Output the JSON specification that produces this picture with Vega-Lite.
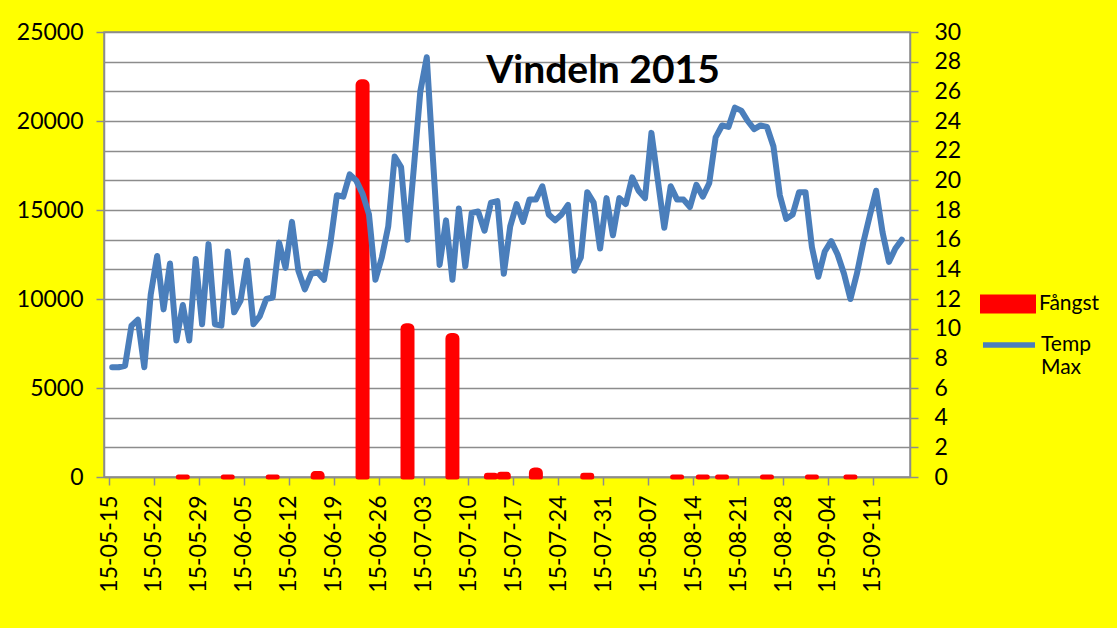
{
  "$schema": "https://vega.github.io/schema/vega-lite/v6.json",
  "width": 806,
  "height": 445,
  "autosize": {"type": "none"},
  "padding": {"left": 104, "top": 32, "right": 207, "bottom": 151},
  "background": "#ffff00",
  "title": {
    "text": "Vindeln 2015",
    "font": "Lato",
    "fontSize": 39,
    "fontWeight": "bold",
    "color": "#000000",
    "anchor": "middle",
    "frame": "group",
    "offset": 0,
    "dx": 96,
    "dy": 101,
    "baseline": "alphabetic"
  },
  "config": {
    "font": "Lato",
    "view": {"fill": "#ffffff", "stroke": "#8c8c8c", "strokeWidth": 1.5},
    "axis": {
      "labelFont": "Lato",
      "labelFontSize": 23,
      "labelColor": "#000000",
      "domainColor": "#8c8c8c",
      "domainWidth": 1.5,
      "tickColor": "#8c8c8c",
      "tickWidth": 1.5,
      "tickSize": 8,
      "labelFlush": false,
      "labelOverlap": false,
      "labelBound": false
    },
    "legend": {
      "orient": "none",
      "title": null,
      "padding": 0,
      "labelFont": "Lato",
      "labelFontSize": 21,
      "labelColor": "#000000",
      "labelOffset": 3
    }
  },
  "datasets": {
    "temp": [
      {"date": "2015-05-15T12:00:00Z", "temp": 7.4},
      {"date": "2015-05-16T12:00:00Z", "temp": 7.4},
      {"date": "2015-05-17T12:00:00Z", "temp": 7.5},
      {"date": "2015-05-18T12:00:00Z", "temp": 10.2},
      {"date": "2015-05-19T12:00:00Z", "temp": 10.6},
      {"date": "2015-05-20T12:00:00Z", "temp": 7.4},
      {"date": "2015-05-21T12:00:00Z", "temp": 12.3},
      {"date": "2015-05-22T12:00:00Z", "temp": 14.9},
      {"date": "2015-05-23T12:00:00Z", "temp": 11.3},
      {"date": "2015-05-24T12:00:00Z", "temp": 14.4},
      {"date": "2015-05-25T12:00:00Z", "temp": 9.2},
      {"date": "2015-05-26T12:00:00Z", "temp": 11.6},
      {"date": "2015-05-27T12:00:00Z", "temp": 9.2},
      {"date": "2015-05-28T12:00:00Z", "temp": 14.7},
      {"date": "2015-05-29T12:00:00Z", "temp": 10.3},
      {"date": "2015-05-30T12:00:00Z", "temp": 15.7},
      {"date": "2015-05-31T12:00:00Z", "temp": 10.3},
      {"date": "2015-06-01T12:00:00Z", "temp": 10.2},
      {"date": "2015-06-02T12:00:00Z", "temp": 15.2},
      {"date": "2015-06-03T12:00:00Z", "temp": 11.1},
      {"date": "2015-06-04T12:00:00Z", "temp": 11.9},
      {"date": "2015-06-05T12:00:00Z", "temp": 14.6},
      {"date": "2015-06-06T12:00:00Z", "temp": 10.3},
      {"date": "2015-06-07T12:00:00Z", "temp": 10.85},
      {"date": "2015-06-08T12:00:00Z", "temp": 12.0},
      {"date": "2015-06-09T12:00:00Z", "temp": 12.1},
      {"date": "2015-06-10T12:00:00Z", "temp": 15.8},
      {"date": "2015-06-11T12:00:00Z", "temp": 14.1},
      {"date": "2015-06-12T12:00:00Z", "temp": 17.2},
      {"date": "2015-06-13T12:00:00Z", "temp": 13.9},
      {"date": "2015-06-14T12:00:00Z", "temp": 12.65},
      {"date": "2015-06-15T12:00:00Z", "temp": 13.7},
      {"date": "2015-06-16T12:00:00Z", "temp": 13.8},
      {"date": "2015-06-17T12:00:00Z", "temp": 13.3},
      {"date": "2015-06-18T12:00:00Z", "temp": 15.8},
      {"date": "2015-06-19T12:00:00Z", "temp": 19.0},
      {"date": "2015-06-20T12:00:00Z", "temp": 18.9},
      {"date": "2015-06-21T12:00:00Z", "temp": 20.4},
      {"date": "2015-06-22T12:00:00Z", "temp": 20.0},
      {"date": "2015-06-23T12:00:00Z", "temp": 19.1},
      {"date": "2015-06-24T12:00:00Z", "temp": 17.7},
      {"date": "2015-06-25T12:00:00Z", "temp": 13.3},
      {"date": "2015-06-26T12:00:00Z", "temp": 14.8},
      {"date": "2015-06-27T12:00:00Z", "temp": 16.9},
      {"date": "2015-06-28T12:00:00Z", "temp": 21.6},
      {"date": "2015-06-29T12:00:00Z", "temp": 20.9},
      {"date": "2015-06-30T12:00:00Z", "temp": 16.0},
      {"date": "2015-07-01T12:00:00Z", "temp": 20.9},
      {"date": "2015-07-02T12:00:00Z", "temp": 26.0},
      {"date": "2015-07-03T12:00:00Z", "temp": 28.3},
      {"date": "2015-07-04T12:00:00Z", "temp": 21.2},
      {"date": "2015-07-05T12:00:00Z", "temp": 14.3},
      {"date": "2015-07-06T12:00:00Z", "temp": 17.3},
      {"date": "2015-07-07T12:00:00Z", "temp": 13.3},
      {"date": "2015-07-08T12:00:00Z", "temp": 18.1},
      {"date": "2015-07-09T12:00:00Z", "temp": 14.2},
      {"date": "2015-07-10T12:00:00Z", "temp": 17.8},
      {"date": "2015-07-11T12:00:00Z", "temp": 17.9},
      {"date": "2015-07-12T12:00:00Z", "temp": 16.6},
      {"date": "2015-07-13T12:00:00Z", "temp": 18.5},
      {"date": "2015-07-14T12:00:00Z", "temp": 18.6},
      {"date": "2015-07-15T12:00:00Z", "temp": 13.7},
      {"date": "2015-07-16T12:00:00Z", "temp": 16.9},
      {"date": "2015-07-17T12:00:00Z", "temp": 18.4},
      {"date": "2015-07-18T12:00:00Z", "temp": 17.2},
      {"date": "2015-07-19T12:00:00Z", "temp": 18.7},
      {"date": "2015-07-20T12:00:00Z", "temp": 18.7},
      {"date": "2015-07-21T12:00:00Z", "temp": 19.6},
      {"date": "2015-07-22T12:00:00Z", "temp": 17.7},
      {"date": "2015-07-23T12:00:00Z", "temp": 17.3},
      {"date": "2015-07-24T12:00:00Z", "temp": 17.7},
      {"date": "2015-07-25T12:00:00Z", "temp": 18.35},
      {"date": "2015-07-26T12:00:00Z", "temp": 13.9},
      {"date": "2015-07-27T12:00:00Z", "temp": 14.8},
      {"date": "2015-07-28T12:00:00Z", "temp": 19.2},
      {"date": "2015-07-29T12:00:00Z", "temp": 18.5},
      {"date": "2015-07-30T12:00:00Z", "temp": 15.4},
      {"date": "2015-07-31T12:00:00Z", "temp": 18.8},
      {"date": "2015-08-01T12:00:00Z", "temp": 16.3},
      {"date": "2015-08-02T12:00:00Z", "temp": 18.8},
      {"date": "2015-08-03T12:00:00Z", "temp": 18.4},
      {"date": "2015-08-04T12:00:00Z", "temp": 20.2},
      {"date": "2015-08-05T12:00:00Z", "temp": 19.3},
      {"date": "2015-08-06T12:00:00Z", "temp": 18.8},
      {"date": "2015-08-07T12:00:00Z", "temp": 23.2},
      {"date": "2015-08-08T12:00:00Z", "temp": 20.0},
      {"date": "2015-08-09T12:00:00Z", "temp": 16.8},
      {"date": "2015-08-10T12:00:00Z", "temp": 19.6},
      {"date": "2015-08-11T12:00:00Z", "temp": 18.7},
      {"date": "2015-08-12T12:00:00Z", "temp": 18.7},
      {"date": "2015-08-13T12:00:00Z", "temp": 18.2},
      {"date": "2015-08-14T12:00:00Z", "temp": 19.7},
      {"date": "2015-08-15T12:00:00Z", "temp": 18.9},
      {"date": "2015-08-16T12:00:00Z", "temp": 19.8},
      {"date": "2015-08-17T12:00:00Z", "temp": 22.9},
      {"date": "2015-08-18T12:00:00Z", "temp": 23.7},
      {"date": "2015-08-19T12:00:00Z", "temp": 23.6},
      {"date": "2015-08-20T12:00:00Z", "temp": 24.9},
      {"date": "2015-08-21T12:00:00Z", "temp": 24.7},
      {"date": "2015-08-22T12:00:00Z", "temp": 24.0},
      {"date": "2015-08-23T12:00:00Z", "temp": 23.45},
      {"date": "2015-08-24T12:00:00Z", "temp": 23.7},
      {"date": "2015-08-25T12:00:00Z", "temp": 23.6},
      {"date": "2015-08-26T12:00:00Z", "temp": 22.3},
      {"date": "2015-08-27T12:00:00Z", "temp": 19.0},
      {"date": "2015-08-28T12:00:00Z", "temp": 17.4},
      {"date": "2015-08-29T12:00:00Z", "temp": 17.7},
      {"date": "2015-08-30T12:00:00Z", "temp": 19.2},
      {"date": "2015-08-31T12:00:00Z", "temp": 19.2},
      {"date": "2015-09-01T12:00:00Z", "temp": 15.5},
      {"date": "2015-09-02T12:00:00Z", "temp": 13.5},
      {"date": "2015-09-03T12:00:00Z", "temp": 15.2},
      {"date": "2015-09-04T12:00:00Z", "temp": 15.9},
      {"date": "2015-09-05T12:00:00Z", "temp": 15.0},
      {"date": "2015-09-06T12:00:00Z", "temp": 13.7},
      {"date": "2015-09-07T12:00:00Z", "temp": 12.0},
      {"date": "2015-09-08T12:00:00Z", "temp": 13.7},
      {"date": "2015-09-09T12:00:00Z", "temp": 15.8},
      {"date": "2015-09-10T12:00:00Z", "temp": 17.6},
      {"date": "2015-09-11T12:00:00Z", "temp": 19.3},
      {"date": "2015-09-12T12:00:00Z", "temp": 16.5},
      {"date": "2015-09-13T12:00:00Z", "temp": 14.5},
      {"date": "2015-09-14T12:00:00Z", "temp": 15.4},
      {"date": "2015-09-15T12:00:00Z", "temp": 16.0}
    ],
    "catch": [
      {"date": "2015-05-26T12:00:00Z", "fangst": 0},
      {"date": "2015-06-02T12:00:00Z", "fangst": 0},
      {"date": "2015-06-09T12:00:00Z", "fangst": 0},
      {"date": "2015-06-16T12:00:00Z", "fangst": 200},
      {"date": "2015-06-23T12:00:00Z", "fangst": 22200},
      {"date": "2015-06-30T12:00:00Z", "fangst": 8500},
      {"date": "2015-07-07T12:00:00Z", "fangst": 7950},
      {"date": "2015-07-13T12:00:00Z", "fangst": 100},
      {"date": "2015-07-15T12:00:00Z", "fangst": 150},
      {"date": "2015-07-20T12:00:00Z", "fangst": 400},
      {"date": "2015-07-28T12:00:00Z", "fangst": 100},
      {"date": "2015-08-11T12:00:00Z", "fangst": 0},
      {"date": "2015-08-15T12:00:00Z", "fangst": 0},
      {"date": "2015-08-18T12:00:00Z", "fangst": 0},
      {"date": "2015-08-25T12:00:00Z", "fangst": 0},
      {"date": "2015-09-01T12:00:00Z", "fangst": 0},
      {"date": "2015-09-07T12:00:00Z", "fangst": 0}
    ]
  },
  "layer": [
    {
      "data": {"name": "catch"},
      "mark": {"type": "bar", "width": 9, "stroke": "#ff0000", "strokeWidth": 5, "strokeJoin": "round", "fillOpacity": 1, "cornerRadiusEnd": 3},
      "encoding": {
        "x": {
          "field": "date",
          "type": "temporal",
          "scale": {
            "type": "utc",
            "domain": [
              {"year": 2015, "month": 5, "date": 15, "utc": true},
              {"year": 2015, "month": 9, "date": 16, "utc": true}
            ]
          },
          "axis": {
            "title": null,
            "grid": false,
            "format": "%y-%m-%d",
            "labelAngle": -90,
            "labelPadding": 10,
            "values": [
              {"year": 2015, "month": 5, "date": 15, "utc": true},
              {"year": 2015, "month": 5, "date": 22, "utc": true},
              {"year": 2015, "month": 5, "date": 29, "utc": true},
              {"year": 2015, "month": 6, "date": 5, "utc": true},
              {"year": 2015, "month": 6, "date": 12, "utc": true},
              {"year": 2015, "month": 6, "date": 19, "utc": true},
              {"year": 2015, "month": 6, "date": 26, "utc": true},
              {"year": 2015, "month": 7, "date": 3, "utc": true},
              {"year": 2015, "month": 7, "date": 10, "utc": true},
              {"year": 2015, "month": 7, "date": 17, "utc": true},
              {"year": 2015, "month": 7, "date": 24, "utc": true},
              {"year": 2015, "month": 7, "date": 31, "utc": true},
              {"year": 2015, "month": 8, "date": 7, "utc": true},
              {"year": 2015, "month": 8, "date": 14, "utc": true},
              {"year": 2015, "month": 8, "date": 21, "utc": true},
              {"year": 2015, "month": 8, "date": 28, "utc": true},
              {"year": 2015, "month": 9, "date": 4, "utc": true},
              {"year": 2015, "month": 9, "date": 11, "utc": true}
            ]
          }
        },
        "y": {
          "field": "fangst",
          "type": "quantitative",
          "scale": {"domain": [0, 25000], "nice": false},
          "axis": {
            "title": null,
            "orient": "left",
            "grid": false,
            "format": "d",
            "values": [0, 5000, 10000, 15000, 20000, 25000],
            "labelPadding": 13
          }
        },
        "fill": {
          "datum": "Fångst",
          "type": "nominal",
          "scale": {"domain": ["Fångst"], "range": ["#ff0000"]},
          "legend": {
            "legendX": 876,
            "legendY": 244,
            "symbolType": "M-1,-0.27H1V0.27H-1Z",
            "symbolSize": 2601,
            "symbolStrokeColor": "#ff0000",
            "symbolStrokeWidth": 5
          }
        }
      }
    },
    {
      "data": {"name": "temp"},
      "mark": {"type": "line", "strokeWidth": 6, "strokeJoin": "round", "strokeCap": "round"},
      "encoding": {
        "x": {"field": "date", "type": "temporal"},
        "y": {
          "field": "temp",
          "type": "quantitative",
          "scale": {"domain": [0, 30], "nice": false},
          "axis": {
            "title": null,
            "orient": "right",
            "grid": true,
            "gridColor": "#8c8c8c",
            "gridWidth": 1.5,
            "format": "d",
            "values": [0, 2, 4, 6, 8, 10, 12, 14, 16, 18, 20, 22, 24, 26, 28, 30],
            "labelPadding": 16
          }
        },
        "stroke": {
          "datum": "Temp Max",
          "type": "nominal",
          "scale": {"domain": ["Temp Max"], "range": ["#4a7ebb"]},
          "legend": {
            "legendX": 876,
            "legendY": 284,
            "symbolType": "stroke",
            "symbolSize": 2704,
            "symbolStrokeWidth": 5.5,
            "labelOffset": 3,
            "labelExpr": "['Temp', 'Max']"
          }
        }
      }
    }
  ],
  "resolve": {"scale": {"y": "independent"}}
}
